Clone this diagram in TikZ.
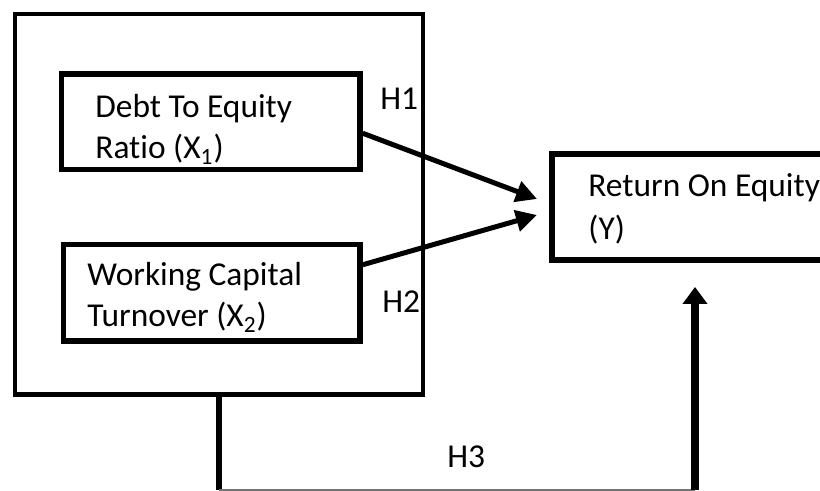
\documentclass[tikz,border=0pt]{standalone}
\usepackage{fontspec}
\setmainfont[Ligatures=NoCommon]{Carlito}
\usetikzlibrary{arrows.meta}
\tikzset{
  varbox/.style={draw,line width=2.75pt,inner sep=0pt},
  lbl/.style={anchor=base west,inner sep=0pt,align=left},
  hyp/.style={-{Triangle[length=10.5pt,width=10.5pt]},line width=2.5pt},
}

\begin{document}
\begin{tikzpicture}[x=0.5pt,y=-0.5pt,font=\fontsize{16.7}{20.5}\selectfont]
  \useasboundingbox (0,0) rectangle (820,491);
  \node[varbox,line width=2.15pt,minimum width=204pt,minimum height=190.25pt] (grp) at (219,204.25) {};
  \node[varbox,minimum width=149.25pt,minimum height=47.75pt] (dte) at (210.75,121.75) {};
  \node[varbox,minimum width=148.25pt,minimum height=48.25pt] (wct) at (211.75,292.75) {};
  \node[varbox,line width=3pt,minimum width=143pt,minimum height=53pt] (roe) at (695,207) {};
  \node[lbl] (dtelbl) at (95,159) {Debt To Equity\\Ratio (X\textsubscript{1})};
  \node[lbl] (wctlbl) at (87,327) {Working Capital\\Turnover (X\textsubscript{2})};
  \node[lbl] (roelbl) at (588,240) {Return On Equity\\[1pt](Y)};
  \node[lbl] (h1) at (380,110) {H1};
  \node[lbl] (h2) at (382,313) {H2};
  \node[lbl] (h3) at (447,468) {H3};
  \draw[hyp] ([yshift=-5.75pt]dte.east) -- ([xshift=-6pt,yshift=4pt]roe.west);
  \draw[hyp] ([yshift=14pt]wct.east) -- ([xshift=-6pt,yshift=-4pt]roe.west);
  \coordinate (h3a) at (grp.south |- 0,490);
  \coordinate (h3b) at (roe.south |- h3a);
  \draw[line width=3pt] (grp.south) -- (h3a);
  \draw[line width=0.75pt,black!55] (h3a) -- (h3b);
  \draw[-{Triangle[length=8.5pt,width=12pt]},line width=3.75pt,shorten >=12pt] (h3b) -- (roe.south);
\end{tikzpicture}
\end{document}
